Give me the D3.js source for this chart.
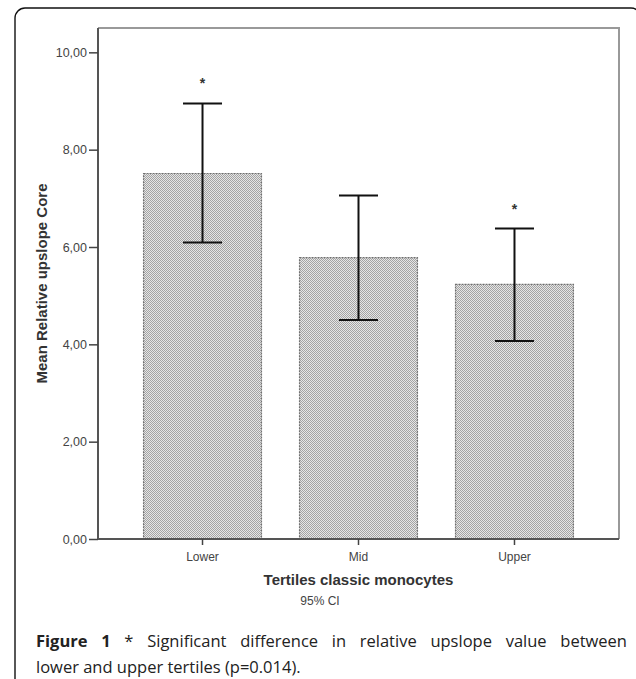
<!DOCTYPE html>
<html>
<head>
<meta charset="utf-8">
<script src="https://cdn.jsdelivr.net/npm/d3@7"></script>
<style>
  body { margin: 0; background: #fff; }
  svg { display: block; }
</style>
</head>
<body>
<div id="chart"></div>
<script>
// values
const categories = ["Lower", "Mid", "Upper"];
const means = [7.51, 5.78, 5.23];
const ciLow = [6.09, 4.50, 4.07];
const ciHigh = [8.95, 7.06, 6.38];
const significant = [true, false, true];
const yTicks = [0, 2, 4, 6, 8, 10];

const width = 636, height = 679;
const plot = { left: 98, right: 619, top: 28, bottom: 539 };

const svg = d3.select("#chart")
    .append("svg")
    .attr("width", width)
    .attr("height", height);

// dotted grey fill used by the bars
const defs = svg.append("defs");
const pat = defs.append("pattern")
    .attr("id", "dots")
    .attr("patternUnits", "userSpaceOnUse")
    .attr("width", 2)
    .attr("height", 2);
pat.append("rect").attr("width", 2).attr("height", 2).attr("fill", "#e6e6e6");
pat.append("rect").attr("x", 0).attr("y", 0).attr("width", 1).attr("height", 1).attr("fill", "#a4a4a4");
pat.append("rect").attr("x", 1).attr("y", 1).attr("width", 1).attr("height", 1).attr("fill", "#a4a4a4");

// card border (right and bottom run off the page)
svg.append("rect")
    .attr("x", 15)
    .attr("y", 8)
    .attr("width", 626)
    .attr("height", 720)
    .attr("rx", 10)
    .attr("fill", "none")
    .attr("stroke", "#111")
    .attr("stroke-width", 1.4);

const x = d3.scaleBand()
    .domain(categories)
    .range([plot.left, plot.right])
    .paddingInner(0.244)
    .paddingOuter(0.292);

const y = d3.scaleLinear()
    .domain([0, 10.5])
    .range([plot.bottom, plot.top]);

// frame (top and right)
svg.append("path")
    .attr("d", `M${plot.left},${plot.top}H${plot.right}V${plot.bottom}`)
    .attr("fill", "none")
    .attr("stroke", "#999")
    .attr("stroke-width", 2);

// bars
svg.selectAll("rect.bar")
    .data(categories)
    .enter()
    .append("rect")
    .attr("class", "bar")
    .attr("x", (d) => x(d))
    .attr("y", (d, i) => y(means[i]))
    .attr("width", x.bandwidth())
    .attr("height", (d, i) => y(0) - y(means[i]))
    .attr("fill", "url(#dots)")
    .attr("stroke", "#707070")
    .attr("stroke-width", 1.2)
    .attr("stroke-dasharray", "2,1");

// error bars
const capHalf = 19.5;
const err = svg.selectAll("g.err")
    .data(categories)
    .enter()
    .append("g")
    .attr("class", "err")
    .attr("stroke", "#111")
    .attr("stroke-width", 2);

err.append("line")
    .attr("x1", (d) => x(d) + x.bandwidth() / 2)
    .attr("x2", (d) => x(d) + x.bandwidth() / 2)
    .attr("y1", (d, i) => y(ciLow[i]))
    .attr("y2", (d, i) => y(ciHigh[i]));
err.append("line")
    .attr("x1", (d) => x(d) + x.bandwidth() / 2 - capHalf)
    .attr("x2", (d) => x(d) + x.bandwidth() / 2 + capHalf)
    .attr("y1", (d, i) => y(ciHigh[i]))
    .attr("y2", (d, i) => y(ciHigh[i]));
err.append("line")
    .attr("x1", (d) => x(d) + x.bandwidth() / 2 - capHalf)
    .attr("x2", (d) => x(d) + x.bandwidth() / 2 + capHalf)
    .attr("y1", (d, i) => y(ciLow[i]))
    .attr("y2", (d, i) => y(ciLow[i]));

// asterisks above significant groups
svg.selectAll("text.star")
    .data(categories.filter((d, i) => significant[i]))
    .enter()
    .append("text")
    .attr("class", "star")
    .attr("x", (d) => x(d) + x.bandwidth() / 2)
    .attr("y", (d) => y(ciHigh[categories.indexOf(d)]) - 15)
    .attr("text-anchor", "middle")
    .style("font", "bold 14px Arial, 'Liberation Sans', sans-serif")
    .style("fill", "#333")
    .text("*");

// y axis
const yAxis = svg.append("g")
    .attr("transform", `translate(${plot.left},0)`)
    .call(d3.axisLeft(y)
        .tickValues(yTicks)
        .tickSize(9)
        .tickPadding(2)
        .tickFormat((d) => d3.format(".2f")(d).replace(".", ",")));
yAxis.select(".domain")
    .attr("d", `M0,${plot.top}V${plot.bottom}`)
    .attr("stroke", "#555")
    .attr("stroke-width", 2);
yAxis.selectAll(".tick line").attr("stroke", "#444").attr("stroke-width", 1.5);
yAxis.selectAll(".tick text")
    .style("font", "12.5px Arial, 'Liberation Sans', sans-serif")
    .attr("fill", "#444");

// x axis
const xAxis = svg.append("g")
    .attr("transform", `translate(0,${plot.bottom})`)
    .call(d3.axisBottom(x).tickSize(6).tickPadding(7));
xAxis.select(".domain")
    .attr("d", `M${plot.left},0H${plot.right}`)
    .attr("stroke", "#555")
    .attr("stroke-width", 2);
xAxis.selectAll(".tick line").attr("stroke", "#444").attr("stroke-width", 1.5);
xAxis.selectAll(".tick text")
    .style("font", "12px Arial, 'Liberation Sans', sans-serif")
    .attr("fill", "#444");

// axis titles
svg.append("text")
    .attr("transform", `translate(47,${(plot.top + plot.bottom) / 2}) rotate(-90)`)
    .attr("text-anchor", "middle")
    .style("font", "bold 15px Arial, 'Liberation Sans', sans-serif")
    .attr("fill", "#333")
    .text("Mean Relative upslope Core");

svg.append("text")
    .attr("x", (plot.left + plot.right) / 2)
    .attr("y", 585)
    .attr("text-anchor", "middle")
    .style("font", "bold 15px Arial, 'Liberation Sans', sans-serif")
    .attr("fill", "#333")
    .text("Tertiles classic monocytes");

svg.append("text")
    .attr("x", 320)
    .attr("y", 605)
    .attr("text-anchor", "middle")
    .style("font", "12px Arial, 'Liberation Sans', sans-serif")
    .attr("fill", "#444")
    .text("95% CI");

// caption, first line justified
const cap1 = svg.append("text")
    .attr("x", 36)
    .attr("y", 647)
    .style("font", "16.5px 'Open Sans', sans-serif")
    .attr("fill", "#222");
cap1.append("tspan").style("font-weight", "bold").text("Figure 1");
cap1.append("tspan").text(" * Significant difference in relative upslope value between");
const w1 = cap1.node().getComputedTextLength();
const gaps = 9;
cap1.style("word-spacing", Math.max(0, (627 - 36 - w1) / gaps) + "px");

svg.append("text")
    .attr("x", 36)
    .attr("y", 673)
    .style("font", "16.5px 'Open Sans', sans-serif")
    .attr("fill", "#222")
    .text("lower and upper tertiles (p=0.014).");
</script>
</body>
</html>
